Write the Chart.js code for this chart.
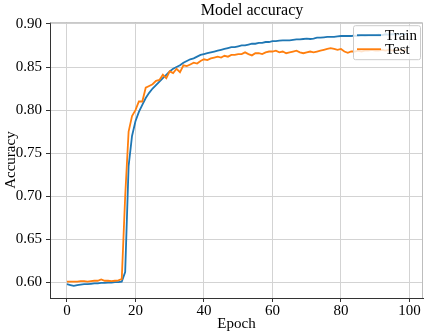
<!DOCTYPE html>
<html>
<head>
<meta charset="utf-8">
<script src="https://cdn.jsdelivr.net/npm/chart.js@4/dist/chart.umd.min.js"></script>
<style>
  html, body { margin: 0; padding: 0; background: #fff; }
  #wrap { width: 428px; height: 333px; }
</style>
</head>
<body>
<div id="wrap"><canvas id="chart" width="428" height="333"></canvas></div>
<script>
const epochs = Array.from({ length: 100 }, (_, i) => i);

const trainAcc = [
  0.598, 0.597, 0.596, 0.597, 0.5975, 0.598, 0.598, 0.5985, 0.599, 0.599,
  0.5995, 0.5995, 0.600, 0.600, 0.6005, 0.6005, 0.601, 0.612, 0.735, 0.770,
  0.787, 0.798, 0.806, 0.814, 0.820, 0.825, 0.829, 0.833, 0.837, 0.841,
  0.845, 0.848, 0.850, 0.852, 0.855, 0.857, 0.859, 0.860, 0.862, 0.864,
  0.865, 0.866, 0.867, 0.868, 0.869, 0.870, 0.871, 0.872, 0.873, 0.873,
  0.874, 0.875, 0.875, 0.876, 0.877, 0.877, 0.878, 0.878, 0.879, 0.879,
  0.880, 0.880, 0.8805, 0.881, 0.881, 0.881, 0.8815, 0.882, 0.882, 0.8825,
  0.883, 0.8825, 0.883, 0.884, 0.884, 0.8845, 0.885, 0.885, 0.885, 0.8855,
  0.886, 0.886, 0.886, 0.886, 0.8865, 0.886, 0.887, 0.8865, 0.887, 0.887,
  0.887, 0.8875, 0.887, 0.888, 0.8875, 0.888, 0.888, 0.888, 0.8885, 0.888
];

const testAcc = [
  0.601, 0.601, 0.601, 0.601, 0.6015, 0.6015, 0.601, 0.6015, 0.602, 0.602,
  0.6035, 0.602, 0.602, 0.6015, 0.602, 0.6025, 0.604, 0.700, 0.775, 0.793,
  0.800, 0.810, 0.810, 0.826, 0.828, 0.830, 0.834, 0.835, 0.841, 0.837,
  0.845, 0.843, 0.848, 0.844, 0.852, 0.851, 0.853, 0.855, 0.854, 0.857,
  0.859, 0.858, 0.860, 0.861, 0.862, 0.861, 0.863, 0.862, 0.864, 0.864,
  0.865, 0.865, 0.867, 0.865, 0.8635, 0.866, 0.866, 0.865, 0.867, 0.868,
  0.868, 0.869, 0.867, 0.868, 0.866, 0.867, 0.868, 0.869, 0.867, 0.866,
  0.867, 0.868, 0.867, 0.868, 0.869, 0.870, 0.871, 0.872, 0.871, 0.870,
  0.871, 0.868, 0.8665, 0.868, 0.868, 0.869, 0.868, 0.869, 0.869, 0.870,
  0.869, 0.869, 0.870, 0.869, 0.870, 0.869, 0.870, 0.870, 0.869, 0.870
];

const xTicks = [0, 20, 40, 60, 80, 100];
const yTicks = [0.60, 0.65, 0.70, 0.75, 0.80, 0.85, 0.90];

const serif = "'Liberation Serif', 'Times New Roman', serif";
const gridColor = '#d3d3d3';
const axisColor = '#333333';

// top and right spines plus the boxed legend in the upper right corner
const framePlugin = {
  id: 'frame',
  afterLayout(chart) {
    // the title sits a little right of the plot centre in the reference
    const t = chart.titleBlock;
    if (t) { t.left = chart.chartArea.left + 30; t.right = chart.chartArea.right + 1; }
  },
  afterDraw(chart) {
    const { ctx, chartArea: a } = chart;
    ctx.save();
    ctx.strokeStyle = '#bdbdbd';
    ctx.lineWidth = 1;
    ctx.beginPath();
    ctx.moveTo(a.left, a.top + 0.5);
    ctx.lineTo(a.right - 0.5, a.top + 0.5);
    ctx.lineTo(a.right - 0.5, a.bottom);
    ctx.stroke();

    const boxW = 67, boxH = 34;
    const bx = a.right - boxW - 3, by = a.top + 3;
    ctx.fillStyle = 'rgba(255,255,255,0.8)';
    ctx.strokeStyle = '#cccccc';
    ctx.beginPath();
    ctx.roundRect(bx + 0.5, by + 0.5, boxW, boxH, 2);
    ctx.fill();
    ctx.stroke();

    ctx.font = '15px ' + serif;
    ctx.textBaseline = 'middle';
    chart.data.datasets.forEach((ds, i) => {
      const y = by + 10 + i * 14;
      ctx.strokeStyle = ds.borderColor;
      ctx.lineWidth = 1.8;
      ctx.beginPath();
      ctx.moveTo(bx + 4, y);
      ctx.lineTo(bx + 28, y);
      ctx.stroke();
      ctx.fillStyle = '#000';
      ctx.fillText(ds.label, bx + 32, y + 1);
    });
    ctx.restore();
  }
};

new Chart(document.getElementById('chart'), {
  type: 'line',
  data: {
    labels: epochs,
    datasets: [
      {
        label: 'Train',
        data: trainAcc,
        borderColor: '#1f77b4',
        borderWidth: 1.8,
        pointRadius: 0,
        tension: 0,
        order: 1
      },
      {
        label: 'Test',
        data: testAcc,
        borderColor: '#ff7f0e',
        borderWidth: 1.8,
        pointRadius: 0,
        tension: 0,
        order: 0
      }
    ]
  },
  options: {
    responsive: false,
    animation: false,
    layout: { padding: { left: 2, right: 5, top: 0, bottom: 0 } },
    plugins: {
      legend: { display: false },
      tooltip: { enabled: false },
      title: {
        display: true,
        text: 'Model accuracy',
        color: '#000',
        font: { family: serif, size: 16, weight: 'normal' },
        padding: { top: 1, bottom: 2 }
      }
    },
    scales: {
      x: {
        type: 'linear',
        min: -4.95,
        max: 103.95,
        afterBuildTicks: s => { s.ticks = xTicks.map(v => ({ value: v })); },
        afterFit: s => { s.height = 35; },
        ticks: {
          color: '#000',
          font: { family: serif, size: 15 },
          padding: 0,
          maxRotation: 0
        },
        grid: { color: gridColor, tickColor: axisColor, tickLength: 4 },
        border: { display: true, color: axisColor, width: 1 },
        title: {
          display: true,
          text: 'Epoch',
          color: '#000',
          font: { family: serif, size: 15 },
          padding: 0
        }
      },
      y: {
        min: 0.582,
        max: 0.902,
        afterBuildTicks: s => { s.ticks = yTicks.map(v => ({ value: v })); },
        afterFit: s => { s.width = 48; },
        ticks: {
          color: '#000',
          font: { family: serif, size: 15 },
          padding: 4,
          callback: v => v.toFixed(2)
        },
        grid: { color: gridColor, tickColor: axisColor, tickLength: 4 },
        border: { display: true, color: axisColor, width: 1 },
        title: {
          display: true,
          text: 'Accuracy',
          color: '#000',
          font: { family: serif, size: 15 },
          padding: 0
        }
      }
    }
  },
  plugins: [framePlugin]
});
</script>
</body>
</html>
